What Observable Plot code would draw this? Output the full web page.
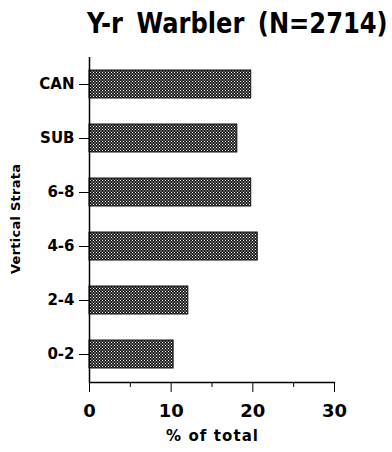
<!DOCTYPE html>
<html>
<head>
<meta charset="utf-8">
<script src="https://cdn.jsdelivr.net/npm/d3@7"></script>
<script src="https://cdn.jsdelivr.net/npm/@observablehq/plot@0.6"></script>
<style>
  html, body { margin: 0; padding: 0; background: #fff; }
  #wrap { position: relative; width: 392px; height: 452px; overflow: hidden; }
  #title {
    position: absolute; left: 87px; top: 6px; height: 42px;
    font-family: "DejaVu Sans", sans-serif;
    font-weight: bold; font-size: 28px; word-spacing: 6px;
    color: #000; white-space: nowrap; line-height: 36px;
    transform-origin: 0 0;
  }
  #chart { position: absolute; left: 0; top: 48px; }
  svg text { font-family: "DejaVu Sans", sans-serif; font-weight: bold; }
</style>
</head>
<body>
<div id="wrap">
  <div id="title">Y-r Warbler (N=2714)</div>
  <div id="chart"></div>
</div>
<script>
const strata = ["CAN", "SUB", "6-8", "4-6", "2-4", "0-2"];
const percent = [19.8, 18.1, 19.8, 20.6, 12.1, 10.3];
const majorTicks = [0, 10, 20, 30];
const minorTicks = [5, 15, 25];
const xLabel = "% of total";
const yLabel = "Vertical Strata";

const data = strata.map((s, i) => ({stratum: s, value: percent[i]}));

const defs = () => {
  const g = d3.create("svg:defs");
  const p = g.append("pattern").attr("id", "dots").attr("patternUnits", "userSpaceOnUse")
    .attr("width", 3).attr("height", 3);
  p.append("rect").attr("width", 3).attr("height", 3).attr("fill", "#1c1c1c");
  p.append("rect").attr("x", 0).attr("y", 0).attr("width", 1).attr("height", 1).attr("fill", "#fff");
  p.append("rect").attr("x", 1.5).attr("y", 1.5).attr("width", 1).attr("height", 1).attr("fill", "#fff");
  return g.node();
};

const chart = Plot.plot({
  width: 392,
  height: 404,
  marginLeft: 89,
  marginRight: 58,
  marginTop: 9,
  marginBottom: 70,
  style: {fontSize: "14px", color: "#000", background: "#fff"},
  x: {domain: [0, 30], label: null},
  y: {domain: strata, paddingInner: 0.48, paddingOuter: 0.24, label: null},
  marks: [
    defs,
    Plot.barX(data, {x: "value", y: "stratum", fill: "url(#dots)", stroke: "#111", strokeWidth: 1}),
    Plot.ruleX([0], {stroke: "#000", strokeWidth: 1.5}),
    Plot.frame({anchor: "bottom", stroke: "#000", strokeWidth: 1.5}),
    Plot.axisY({tickSize: 10, tickPadding: 5, fontSize: 15, label: null, stroke: "#000"}),
    Plot.axisX({ticks: majorTicks, tickSize: 10, tickPadding: 12, fontSize: 18, label: null, tickFormat: d => String(d)}),
    Plot.axisX({ticks: minorTicks, tickSize: 5, text: null, label: null}),
    Plot.text([xLabel], {frameAnchor: "bottom", dy: 58, fontSize: 15, fontWeight: "bold", fill: "#000", className: "xlab"}),
    Plot.text([yLabel], {frameAnchor: "left", textAnchor: "middle", dx: -74, dy: -1, rotate: -90, fontSize: 13, fontWeight: "bold", fill: "#000", className: "ylab"})
  ]
});
document.getElementById("chart").appendChild(chart);
// stretch axis titles to the reference's spaced lettering
chart.querySelectorAll(".xlab text").forEach(t => { t.setAttribute("textLength", 92); t.setAttribute("lengthAdjust", "spacing"); });
chart.querySelectorAll(".ylab text").forEach(t => { t.setAttribute("textLength", 110); t.setAttribute("lengthAdjust", "spacing"); });
// fit the title to the reference's width (87 → 388)
const t = document.getElementById("title");
const w = t.scrollWidth;
t.style.transform = `scaleX(${301 / w})`;
</script>
</body>
</html>
